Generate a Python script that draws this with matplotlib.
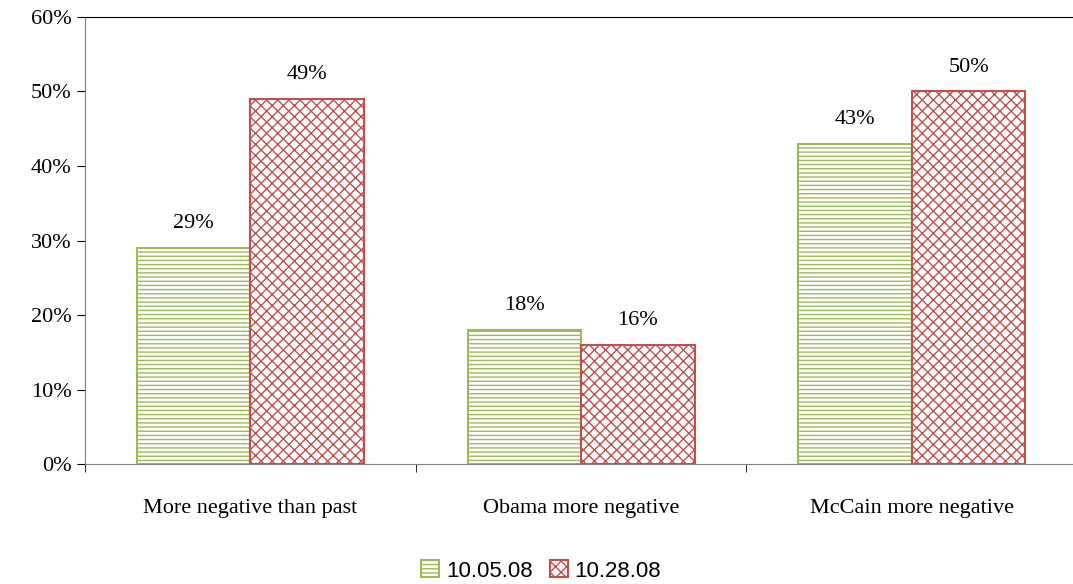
import numpy as np
import matplotlib.pyplot as plt
import matplotlib as mpl

plt.rcParams['font.family'] = ['Liberation Serif', 'DejaVu Serif']
mpl.rcParams['hatch.linewidth'] = 1.0

categories = ['More negative than past', 'Obama more negative', 'McCain more negative']
series_names = ['10.05.08', '10.28.08']
oct05 = [29, 18, 43]
oct28 = [49, 16, 50]

green = '#9BBB59'
red = '#C0504D'

fig = plt.figure(figsize=(10.73, 5.84), dpi=100)
ax = fig.add_axes([0.079, 0.205, 0.925, 0.766])

x = np.arange(len(categories))
w = 0.343
b1 = ax.bar(x - w / 2, oct05, w, facecolor='white', edgecolor=green, hatch='----', linewidth=1.5, label=series_names[0])
b2 = ax.bar(x + w / 2, oct28, w, facecolor='white', edgecolor=red, hatch='xxx', linewidth=1.5, label=series_names[1])

for bars in (b1, b2):
    for r in bars:
        ax.text(r.get_x() + r.get_width() / 2, r.get_height() + 2.0, f'{r.get_height():.0f}%',
                ha='center', va='bottom', fontsize=16)

ax.set_xlim(-0.5, 2.5)
ax.set_ylim(0, 60)
ax.set_yticks(range(0, 61, 10))
ax.set_yticklabels([f'{v}%' for v in range(0, 61, 10)], fontsize=16)
ax.set_xticks(x)
ax.set_xticklabels(categories, fontsize=16)
ax.set_xticks([-0.5, 0.5, 1.5, 2.5], minor=True)
ax.tick_params(axis='x', which='major', length=0, pad=25)
ax.tick_params(axis='x', which='minor', length=6, direction='out')
ax.tick_params(axis='y', length=6, direction='out')
ax.spines['right'].set_visible(False)
for s in ax.spines.values():
    s.set_color('#808080')
ax.spines['top'].set_color('black')

ax.legend(loc='upper center', bbox_to_anchor=(0.46, -0.17), ncol=2, frameon=False,
          prop={'family': 'Liberation Sans', 'size': 16},
          handlelength=0.8, handleheight=0.8, columnspacing=0.8, handletextpad=0.3)

fig.savefig('out.png', dpi=100)
